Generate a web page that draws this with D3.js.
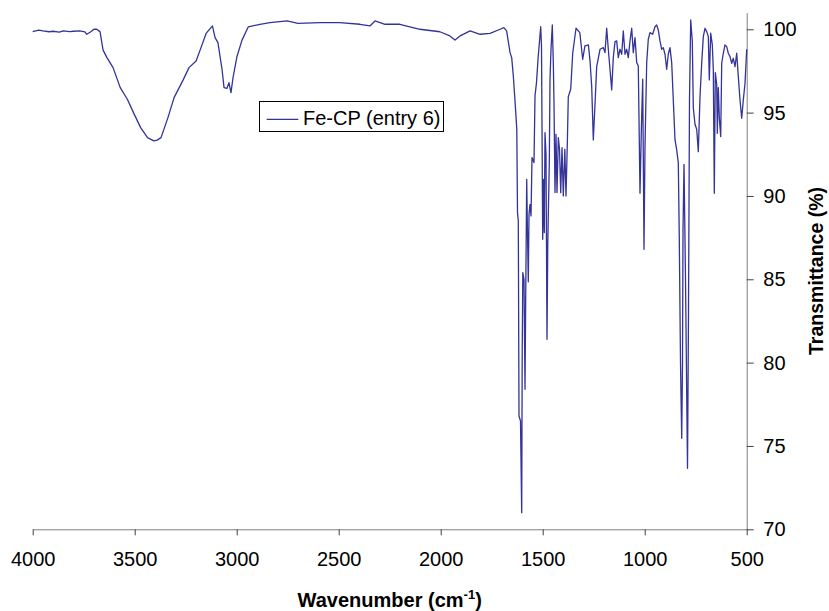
<!DOCTYPE html>
<html><head><meta charset="utf-8">
<script src="https://cdn.jsdelivr.net/npm/d3@7"></script>
<style>body{margin:0;background:#fff} svg{display:block} text{font-family:"Liberation Sans",Arial,sans-serif}</style>
</head><body><svg id="chart" width="829" height="611"></svg>
<script>
const wavenumbers = [4000,3970,3950,3920,3900,3870,3850,3820,3800,3770,3744,3735,3715,3700,3686,3670,3655,3636,3606,3571,3536,3506,3471,3437,3406,3390,3371,3337,3307,3263,3234,3199,3175,3150,3119,3106,3092,3072,3062,3048,3038,3028,3018,2999,2974,2943,2886,2837,2753,2700,
2592,2494,2396,2347,2322,2273,2200,2102,2004,1955,1930,1905,1856,1807,1758,1709,1690,1677,1660,1652,1644,1636,1627,
1623.5,1619.6,1616.2,1608.8,1602.9,1600.5,1597.5,1591.7,1586.7,1583.3,1578.4,1575.5,1570.6,1567.1,1562.2,1557.3,1552.4,1542.6,1537.7,1530.4,1523,1509.8,1505.9,1500,1496.1,1492.1,1488.7,1483.8,1478.9,1475,1467.6,1464.2,1459.3,1452.9,1448,1444.6,1439.7,1434.8,1429.9,1423.4,1417.6,1411.7,1405.3,1399,1391.6,1385.8,1379.4,1374.5,1362.7,1352.9,1336.7,1318,1304,1293,1276,1268,1259.8,1251.9,1243.6,1235.3,1219.1,1202.9,1194.6,1186.3,1178.4,1170.1,1161.8,1153.9,1145.6,1137.3,1129.4,1121.1,1112.7,1104.9,1096.5,1088.2,1080.4,1072,1063.7,1055.9,1047.5,1039.2,1031.4,1023,1016.7,1009.8,1003.4,998.5,990.2,982.4,974,960.8,949.5,941.2,933.4,925,916.7,908.9,900.5,892.2,884.4,876,867.7,859.8,851.4,843.1,835.3,830.4,824.5,818.6,814.7,812.2,807.3,800,790.2,785.3,780.4,774.5,766.7,761.8,753.4,745.1,737.2,728.9,720.6,712.7,704.4,696,688.2,683.3,676.4,668.6,663.7,658.8,653.9,647,644.1,639.2,634.3,627.4,622.5,614.7,606.4,598,590.2,581.8,573.5,565.7,557.3,549,541.1,532.8,524.5,516.6,508.3,500];
const transmittance = [99.86,99.95,99.9,99.85,99.88,99.83,99.9,99.86,99.88,99.9,99.85,99.7,99.85,100.0,100.0,99.86,98.75,98.3,97.7,96.5,95.8,95.0,94.1,93.5,93.3,93.35,93.5,94.7,95.9,96.95,97.7,98.1,98.9,99.75,100.2,99.5,99.2,97.6,96.5,96.45,96.8,96.2,97.1,98.35,99.35,100.15,100.3,100.4,100.5,100.35,
100.4,100.4,100.3,100.2,100.5,100.3,100.3,100.0,99.85,99.6,99.35,99.6,99.9,99.7,99.75,100.0,100.1,99.9,98.6,98.3,97.2,95.75,94.0,
89.0,88.5,76.8,76.5,71.0,80.5,85.4,85.0,78.4,84,91.0,88.5,84.85,88.9,89.5,88.8,92.3,92.0,96.0,96.8,98.2,100.15,99.0,87.4,91.0,87.8,93.8,92.5,81.4,87.2,92.0,97.0,98.8,100.26,98.0,95.6,90.2,93.7,90.2,93.5,92.8,90.2,92.9,90.0,92.8,90.0,93.1,95.96,96.4,98.56,100.06,99.8,98.2,99.0,99.06,98.1,96.56,93.36,95.5,97.76,98.8,98.9,98.6,100.06,98.8,97.6,96.36,98.3,99.26,99.3,98.3,98.8,98.5,99.9,98.5,98.8,98.3,99.3,100.06,98.6,99.5,98.0,97.8,90.16,93.8,97.0,86.8,93,98.0,99.4,99.8,99.7,100.15,100.26,99.96,99.3,98.8,98.9,98.5,97.6,98.5,98.9,98.0,95.76,93.36,92.76,92.0,87.4,80,75.46,80,88,91.9,85,73.66,83,95.8,100.56,99.3,95.3,94.3,94.0,92.66,95.96,97.96,99.56,100.06,99.86,99.56,96.96,99.76,99.06,97.6,90.16,97.4,96.7,93.76,96.5,94.7,93.56,97.96,98.56,99.06,98.96,98.56,98.36,97.96,98.26,97.76,98.56,97.16,95.76,94.66,95.76,96.76,98.8];
const xTickValues = [4000,3500,3000,2500,2000,1500,1000,500];
const yTickValues = [70,75,80,85,90,95,100];
const seriesName = "Fe-CP (entry 6)";
const xTitleMain = "Wavenumber (cm", xTitleSup = "-1", xTitleEnd = ")";
const yTitle = "Transmittance (%)";

const svg = d3.select("#chart");
const x = d3.scaleLinear().domain([4000, 500]).range([32.7, 746.7]);
const y = d3.scaleLinear().domain([70, 101]).range([529.3, 12.6]);

const gx = svg.append("g").attr("transform", "translate(0,529.3)")
  .call(d3.axisBottom(x).tickValues(xTickValues).tickSize(6).tickSizeOuter(0).tickFormat(d3.format("d")));
gx.select(".domain").attr("stroke", "#808080");
gx.selectAll(".tick line").attr("stroke", "#404040");
gx.selectAll(".tick text").attr("font-size", 20).attr("fill", "#000").attr("y", 23)
  .style("font-family", '"Liberation Sans",Arial,sans-serif');

const gy = svg.append("g").attr("transform", "translate(746.7,0)")
  .call(d3.axisRight(y).tickValues(yTickValues).tickSize(7).tickSizeOuter(0).tickFormat(d3.format("d")));
gy.select(".domain").attr("stroke", "#808080");
gy.selectAll(".tick line").attr("stroke", "#404040");
gy.selectAll(".tick text").attr("font-size", 20).attr("fill", "#000").attr("x", 16.6)
  .style("font-family", '"Liberation Sans",Arial,sans-serif');

const data = wavenumbers.map((w, i) => ({w, t: transmittance[i]}));
svg.append("path").datum(data)
  .attr("fill", "none").attr("stroke", "#333399").attr("stroke-width", 1.3)
  .attr("stroke-linejoin", "round")
  .attr("d", d3.line().x(d => x(d.w)).y(d => y(d.t)));

// legend
const lg = svg.append("g");
lg.append("rect").attr("x", 259.5).attr("y", 101.5).attr("width", 184).attr("height", 30)
  .attr("fill", "#fff").attr("stroke", "#000").attr("stroke-width", 1);
lg.append("line").attr("x1", 266.7).attr("x2", 298.3).attr("y1", 119.3).attr("y2", 119.3)
  .attr("stroke", "#333399").attr("stroke-width", 1.2);
lg.append("text").attr("x", 303).attr("y", 125).attr("font-size", 20).attr("fill", "#000").text(seriesName);

// titles
const xt = svg.append("text").attr("x", 389.7).attr("y", 606.5).attr("text-anchor", "middle")
  .attr("font-size", 20).attr("font-weight", "bold").attr("fill", "#000");
xt.append("tspan").text(xTitleMain);
xt.append("tspan").attr("font-size", 13).attr("dy", -8).text(xTitleSup);
xt.append("tspan").attr("font-size", 20).attr("dy", 8).text(xTitleEnd);

svg.append("text").attr("transform", "translate(823,271) rotate(-90)").attr("text-anchor", "middle")
  .attr("font-size", 19.5).attr("font-weight", "bold").attr("fill", "#000").text(yTitle);
</script></body></html>
